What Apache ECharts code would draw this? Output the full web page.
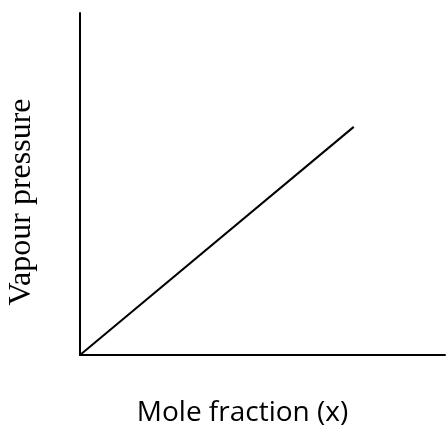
<!DOCTYPE html>
<html><head><meta charset="utf-8">
<script src="https://cdn.jsdelivr.net/npm/echarts@6/dist/echarts.min.js"></script>
<style>html,body{margin:0;padding:0;background:#fff}#c{width:446px;height:425px}</style>
</head><body><div id="c"></div>
<script>
const xValues = [0, 0.75];
const yValues = [0, 0.667];
const xName = 'Mole fraction (x)';
const yName = 'Vapour pressure';

const chart = echarts.init(document.getElementById('c'), null, {renderer: 'canvas'});
chart.setOption({
  animation: false,
  grid: {left: 80, top: 13, right: 1, bottom: 70, containLabel: false, outerBoundsMode: 'none'},
  xAxis: {
    type: 'value', min: 0, max: 1,
    name: xName, nameLocation: 'middle', nameGap: 44,
    nameTextStyle: {fontFamily: 'Open Sans', fontSize: 28, color: '#000', padding: [0, 40, 0, 0]},
    axisLine: {show: true, onZero: false, lineStyle: {color: '#000', width: 2}},
    axisTick: {show: false}, axisLabel: {show: false}, splitLine: {show: false}
  },
  yAxis: {
    type: 'value', min: 0, max: 1,
    name: yName, nameLocation: 'middle', nameGap: 42, nameRotate: 90,
    nameTextStyle: {fontFamily: 'Liberation Serif', fontSize: 32, color: '#000', padding: [0, 36, 0, 0]},
    axisLine: {show: true, onZero: false, lineStyle: {color: '#000', width: 2}},
    axisTick: {show: false}, axisLabel: {show: false}, splitLine: {show: false}
  },
  series: [{
    type: 'line',
    data: xValues.map((x, i) => [x, yValues[i]]),
    symbol: 'none',
    lineStyle: {color: '#000', width: 2}
  }]
});
</script></body></html>
